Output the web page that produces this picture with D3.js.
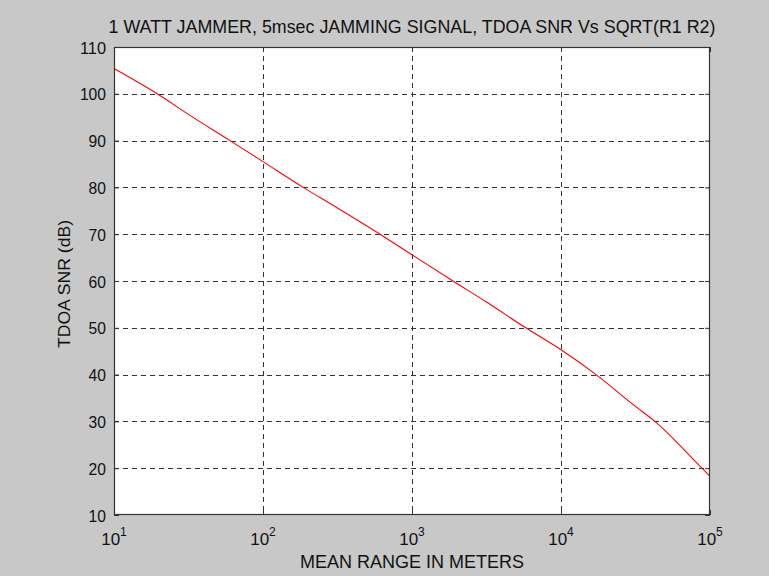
<!DOCTYPE html>
<html><head><meta charset="utf-8">
<script src="https://cdn.jsdelivr.net/npm/d3@7"></script>
<style>
html,body{margin:0;padding:0;background:#c8c8c8;}
svg{display:block;font-family:"Liberation Sans",Arial,sans-serif;}
</style></head>
<body>
<svg id="c" width="769" height="576"></svg>
<script>
// Data
const rangeMeters = [10, 19.5, 31.6, 60, 100, 186, 316, 610, 1000, 1884, 3162, 5728, 10000, 17180, 31623, 42660, 88310, 100000];
const snrDb       = [105.4, 100, 95.6, 90, 85.5, 80, 75.6, 70, 65.6, 60, 55.5, 50.1, 45.3, 40, 33.2, 30, 20, 18.3];
const xTickExps = [1, 2, 3, 4, 5];
const yTicks = [10, 20, 30, 40, 50, 60, 70, 80, 90, 100, 110];
const titleText = "1 WATT JAMMER, 5msec JAMMING SIGNAL, TDOA SNR Vs SQRT(R1 R2)";
const xLabel = "MEAN RANGE IN METERS";
const yLabel = "TDOA SNR (dB)";

const svg = d3.select("#c");
const L = 114, R = 710, T = 47, B = 515;
const x = d3.scaleLog().domain([10, 100000]).range([L, R]);
const y = d3.scaleLinear().domain([10, 110]).range([B, T]);

svg.append("rect").attr("x",0).attr("y",0).attr("width",769).attr("height",576).attr("fill","#c8c8c8");
svg.append("rect").attr("x",L).attr("y",T).attr("width",R-L).attr("height",B-T).attr("fill","#ffffff");

// grid
const grid = svg.append("g").attr("stroke","#333").attr("stroke-width",1).attr("stroke-dasharray","5,4");
xTickExps.slice(1,-1).forEach(e=>{
  const px = Math.round(x(Math.pow(10,e)))+0.5;
  grid.append("line").attr("x1",px).attr("x2",px).attr("y1",T).attr("y2",B);
});
yTicks.slice(1,-1).forEach(v=>{
  const py = Math.round(y(v))+0.5;
  grid.append("line").attr("x1",L).attr("x2",R).attr("y1",py).attr("y2",py);
});

// curve
const line = d3.line().x((d,i)=>x(rangeMeters[i])).y(d=>y(d)).curve(d3.curveMonotoneX);
svg.append("path").attr("d", line(snrDb)).attr("fill","none").attr("stroke","#ff0000").attr("stroke-width",1.1);

// axes via d3 axis (inward ticks)
const yAxis = d3.axisLeft(y).tickValues(yTicks).tickSizeInner(-5).tickSizeOuter(0).tickPadding(8).tickFormat(d3.format("d"));
const gy = svg.append("g").attr("transform",`translate(${L},0)`).call(yAxis);
gy.select(".domain").remove();
gy.selectAll("line").attr("stroke","#333");
gy.selectAll("text").attr("font-size",17).attr("fill","#111").attr("font-family","Liberation Sans, Arial, sans-serif").attr("dy","0.36em")
  .attr("textLength", d=> String(d).length*8.7).attr("lengthAdjust","spacingAndGlyphs");

const gyR = svg.append("g").attr("transform",`translate(${R},0)`).call(d3.axisRight(y).tickValues(yTicks).tickSizeInner(-5).tickSizeOuter(0).tickFormat(""));
gyR.select(".domain").remove(); gyR.selectAll("line").attr("stroke","#333");

const xAxis = d3.axisBottom(x).tickValues(xTickExps.map(e=>Math.pow(10,e))).tickSizeInner(-5).tickSizeOuter(0).tickFormat("");
const gx = svg.append("g").attr("transform",`translate(0,${B})`).call(xAxis);
gx.select(".domain").remove(); gx.selectAll("line").attr("stroke","#333");
const gxT = svg.append("g").attr("transform",`translate(0,${T})`).call(d3.axisTop(x).tickValues(xTickExps.map(e=>Math.pow(10,e))).tickSizeInner(-5).tickSizeOuter(0).tickFormat(""));
gxT.select(".domain").remove(); gxT.selectAll("line").attr("stroke","#333");

// x tick labels with superscripts
xTickExps.forEach(e=>{
  const t = svg.append("text").attr("x", x(Math.pow(10,e))).attr("y", 545)
    .attr("text-anchor","middle").attr("font-size",17).attr("fill","#111");
  t.append("tspan").text("10");
  t.append("tspan").attr("font-size",12).attr("dy",-9).text(String(e));
});

// box
svg.append("rect").attr("x",L+0.5).attr("y",T+0.5).attr("width",R-L-1).attr("height",B-T-1)
  .attr("fill","none").attr("stroke","#333").attr("stroke-width",1.2);

// labels
svg.append("text").attr("x",(L+R)/2).attr("y",33).attr("text-anchor","middle").attr("font-size",17.5).attr("fill","#111")
  .attr("textLength",607).attr("lengthAdjust","spacingAndGlyphs").text(titleText);
svg.append("text").attr("x",(L+R)/2).attr("y",568).attr("text-anchor","middle").attr("font-size",17.5).attr("fill","#111")
  .attr("textLength",224).attr("lengthAdjust","spacingAndGlyphs").text(xLabel);
svg.append("text").attr("transform",`translate(70,${(T+B)/2+3}) rotate(-90)`).attr("text-anchor","middle").attr("font-size",17).attr("fill","#111")
  .attr("textLength",128).attr("lengthAdjust","spacingAndGlyphs").text(yLabel);
</script>
</body></html>
